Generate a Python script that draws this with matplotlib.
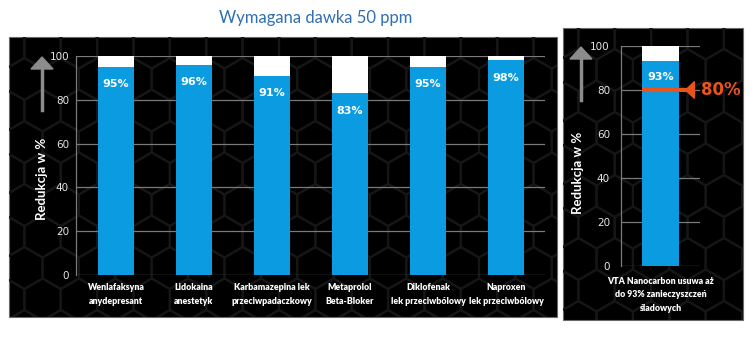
import numpy as np
import matplotlib.pyplot as plt
from matplotlib.patches import Rectangle, RegularPolygon, Polygon

title = "Wymagana dawka 50 ppm"
categories = ["Wenlafaksyna\nanydepresant", "Lidokaina\nanestetyk",
              "Karbamazepina lek\nprzeciwpadaczkowy", "Metaprolol\nBeta-Bloker",
              "Diklofenak\nlek przeciwbólowy", "Naproxen\nlek przeciwbólowy"]
reduction = [95, 96, 91, 83, 95, 98]
nano_label = "VTA Nanocarbon usuwa aż\ndo 93% zanieczyszczeń\nśladowych"
nano_value = [93]
required = 80
yticks = [0, 20, 40, 60, 80, 100]

W, H = 756, 337
BLUE = "#0a9be0"
ORANGE = "#e8541c"
GRID = "#7a7a7a"
FONT = ["Lato", "DejaVu Sans"]


def box(x0, y0, x1, y1):
    return [x0 / W, 1 - y1 / H, (x1 - x0) / W, (y1 - y0) / H]


fig = plt.figure(figsize=(W / 100, H / 100), dpi=100)
fig.patch.set_facecolor("white")

# background layer in pixel coordinates
bg = fig.add_axes([0, 0, 1, 1])
bg.set_xlim(0, W)
bg.set_ylim(H, 0)
bg.axis("off")

panels = [(9, 37, 557, 317), (563, 28, 743, 320)]
for x0, y0, x1, y1 in panels:
    rect = Rectangle((x0, y0), x1 - x0, y1 - y0, facecolor="black",
                     edgecolor="#6a6a6a", lw=0.8)
    bg.add_patch(rect)
    r = 21
    for j, cy in enumerate(np.arange(y0 - r, y1 + r, 1.5 * r)):
        off = (np.sqrt(3) * r / 2) if j % 2 else 0
        for cx in np.arange(x0 - r + off, x1 + r, np.sqrt(3) * r):
            hx = RegularPolygon((cx, cy), 6, radius=r, facecolor="none",
                                edgecolor="#161616", lw=1.6)
            bg.add_patch(hx)
            hx.set_clip_path(rect)

bg.text(316, 18, title, ha="center", va="center", fontsize=12,
        color="#2f6fb2", family=FONT)

# grey arrows and y labels
for ax_x, top, bot, lab_x, lab_y in [(42, 57, 110, 42, 179), (581, 47, 100, 578, 173)]:
    bg.plot([ax_x, ax_x], [top + 10, bot], color="#8c8c8c", lw=2.5)
    bg.add_patch(Polygon([(ax_x - 11, top + 12), (ax_x + 11, top + 12), (ax_x, top)],
                         closed=True, color="#8c8c8c"))
    bg.text(lab_x, lab_y, "Redukcja w %", rotation=90, ha="center", va="center",
            fontsize=9.5, fontweight="bold", color="white", family=FONT)


def style(ax, pad_y, pad_x):
    ax.set_facecolor("none")
    ax.set_ylim(0, 100)
    ax.set_yticks(yticks)
    ax.yaxis.grid(True, color=GRID, lw=0.9)
    ax.set_axisbelow(True)
    for s in ["top", "right", "bottom"]:
        ax.spines[s].set_visible(False)
    ax.spines["left"].set_color(GRID)
    ax.spines["left"].set_linewidth(0.9)
    ax.tick_params(length=0, colors="#e6e6e6", labelsize=7.5)
    ax.tick_params(axis="y", pad=pad_y)
    ax.tick_params(axis="x", pad=pad_x, labelcolor="white")


# main chart
ax = fig.add_axes(box(76, 56, 545, 275))
x = np.arange(len(categories))
ax.bar(x, [100] * len(x), width=0.46, color="white", zorder=2)
ax.bar(x, reduction, width=0.46, color=BLUE, zorder=3)
for xi, v in zip(x, reduction):
    ax.text(xi, v - 8, f"{v}%", ha="center", va="center", color="white",
            fontsize=8, fontweight="bold", zorder=4)
ax.set_xlim(-0.513, 5.5)
style(ax, 5, 6)
ax.set_xticks(x)
ax.set_xticklabels(categories, fontsize=6.3, fontweight="heavy", family=FONT,
                   linespacing=1.6)

# nanocarbon chart
ax2 = fig.add_axes(box(621, 46, 700, 266))
ax2.bar([0], [100], width=1, color="white", zorder=2)
ax2.bar([0], nano_value, width=1, color=BLUE, zorder=3)
ax2.text(0, nano_value[0] - 7, f"{nano_value[0]}%", ha="center", va="center",
         color="white", fontsize=8, fontweight="bold", zorder=4)
ax2.set_xlim(-1.07, 1.07)
style(ax2, 8, 8)
ax2.set_xticks([0])
ax2.set_xticklabels([nano_label], fontsize=6.3, fontweight="heavy", family=FONT,
                    linespacing=1.6)
ax2.plot([-0.5, 0.72], [required, required], color=ORANGE, lw=3, zorder=5,
         solid_capstyle="butt", clip_on=False)
ax2.add_patch(Polygon([(0.68, required), (0.92, required + 3.8), (0.92, required - 3.8)],
                      closed=True, color=ORANGE, zorder=5, clip_on=False))
ax2.text(1.1, required, f"{required}%", ha="left", va="center", color=ORANGE,
         fontsize=12, fontweight="bold", zorder=5)

fig.savefig("out.png", dpi=100, facecolor="white")
